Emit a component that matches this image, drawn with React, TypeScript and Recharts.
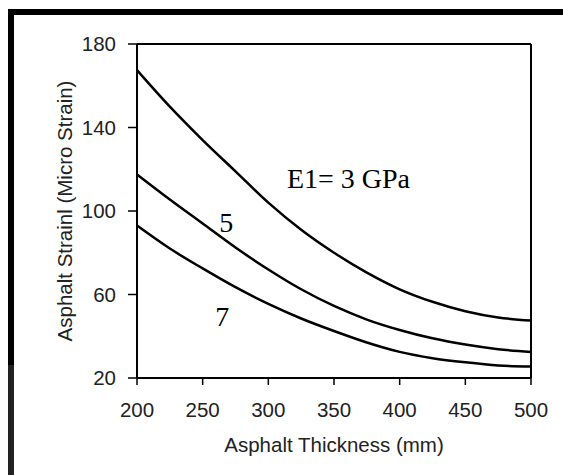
import { LineChart, Line, XAxis, YAxis, ReferenceLine, ReferenceDot } from "recharts";

// asphalt thickness (mm)
const thickness = [200, 225, 250, 275, 300, 325, 350, 375, 400, 425, 450, 475, 500];
// asphalt strain (micro strain) for each E1 modulus
const strainE3 = [167.5, 150, 134, 119, 104, 91, 80, 70.5, 62.5, 56.5, 52, 49, 47.5];
const strainE5 = [117.5, 105.5, 94, 82.5, 72, 62.5, 54.5, 48, 43, 39, 36, 33.8, 32.5];
const strainE7 = [93, 82, 72.5, 63.5, 55.5, 48.5, 42.5, 37, 32.5, 29.5, 27.5, 26, 25.5];

const xTicks = [200, 250, 300, 350, 400, 450, 500];
const yTicks = [20, 60, 100, 140, 180];

// curve labels, anchored at data coordinates
const curveLabels = [
  { x: 361, y: 116, text: "E1= 3 GPa" },
  { x: 268, y: 94.5, text: "5" },
  { x: 265, y: 49.5, text: "7" },
];

const sans = "'Liberation Sans', Arial, sans-serif";
const serif = "'Liberation Serif', 'Times New Roman', serif";

const chartData = thickness.map((t, i) => ({
  t,
  e3: strainE3[i],
  e5: strainE5[i],
  e7: strainE7[i],
}));

export default function App() {
  return (
    <div style={{ position: "absolute", left: 0, top: 0, width: 563, height: 475, background: "#fff", overflow: "hidden" }}>
      <div style={{ position: "absolute", left: 8, top: 9, width: 555, height: 6, background: "#000" }} />
      <div style={{ position: "absolute", left: 8, top: 9, width: 6, height: 356, background: "#000" }} />
      <div style={{ position: "absolute", left: 8, top: 365, width: 6, height: 110, background: "#222" }} />
      <LineChart width={563} height={475} data={chartData} margin={{ top: 44, right: 32, bottom: 0, left: 0 }}>
        <XAxis
          dataKey="t"
          type="number"
          domain={[200, 500]}
          ticks={xTicks}
          height={97}
          tickSize={7}
          tickMargin={17}
          axisLine={{ stroke: "#000", strokeWidth: 2 }}
          tickLine={{ stroke: "#000", strokeWidth: 1.5 }}
          tick={{ fill: "#222", fontSize: 20.5, fontFamily: sans }}
          label={(p: any) => (
            <text
              x={p.viewBox.x + p.viewBox.width / 2}
              y={p.viewBox.y + 66}
              textAnchor="middle"
              dominantBaseline="central"
              fill="#222"
              fontSize={20.5}
              fontFamily={sans}
            >
              Asphalt Thickness (mm)
            </text>
          )}
        />
        <YAxis
          type="number"
          domain={[20, 180]}
          ticks={yTicks}
          width={137}
          tickSize={9}
          tickMargin={12}
          axisLine={{ stroke: "#000", strokeWidth: 2 }}
          tickLine={{ stroke: "#000", strokeWidth: 1.5 }}
          tick={{ fill: "#222", fontSize: 20.5, fontFamily: sans }}
          label={(p: any) => {
            const cx = 64;
            const cy = p.viewBox.y + p.viewBox.height / 2;
            return (
              <text
                x={cx}
                y={cy}
                transform={`rotate(-90 ${cx} ${cy})`}
                textAnchor="middle"
                dominantBaseline="central"
                fill="#222"
                fontSize={20.5}
                fontFamily={sans}
              >
                Asphalt Strainl (Micro Strain)
              </text>
            );
          }}
        />
        <ReferenceLine y={180} stroke="#000" strokeWidth={2} />
        <ReferenceLine x={500} stroke="#000" strokeWidth={2} />
        <Line type="monotone" dataKey="e3" stroke="#000" strokeWidth={2.5} dot={false} isAnimationActive={false} />
        <Line type="monotone" dataKey="e5" stroke="#000" strokeWidth={2.5} dot={false} isAnimationActive={false} />
        <Line type="monotone" dataKey="e7" stroke="#000" strokeWidth={2.5} dot={false} isAnimationActive={false} />
        {curveLabels.map((c) => (
          <ReferenceDot
            key={c.text}
            x={c.x}
            y={c.y}
            r={0}
            fill="none"
            stroke="none"
            label={{ value: c.text, position: "center", fill: "#000", fontSize: 28, fontFamily: serif }}
          />
        ))}
      </LineChart>
    </div>
  );
}
